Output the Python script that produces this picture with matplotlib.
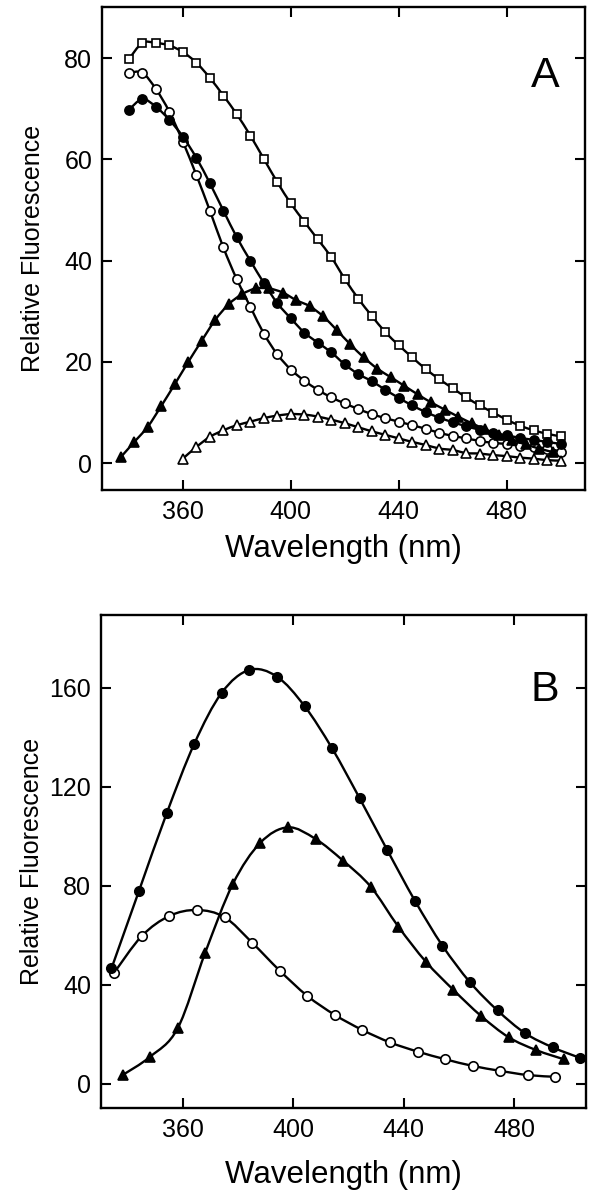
import numpy as np
import matplotlib; matplotlib.use('Agg')
import matplotlib.pyplot as plt
from matplotlib.path import Path
from matplotlib.patches import PathPatch

plt.rcParams['font.family'] = ['Liberation Sans', 'DejaVu Sans']

# ---- Panel A data ----
a_sq_x = [340, 345, 350, 355, 360, 365, 370, 375, 380, 385, 390, 395, 400, 405, 410, 415, 420,
          425, 430, 435, 440, 445, 450, 455, 460, 465, 470, 475, 480, 485, 490, 495, 500]
a_sq_y = [79.8, 83.0, 83.0, 82.5, 81.2, 79.1, 76.1, 72.6, 68.9, 64.7, 60.1, 55.5, 51.3, 47.7, 44.2, 40.7, 36.4,
          32.5, 29.1, 25.9, 23.3, 20.9, 18.6, 16.6, 14.8, 13.0, 11.4, 10.0, 8.6, 7.4, 6.5, 5.8, 5.3]

a_oc_x = a_sq_x
a_oc_y = [77.1, 77.1, 73.9, 69.4, 63.5, 56.9, 49.9, 42.6, 36.3, 30.9, 25.6, 21.5, 18.5, 16.3, 14.5, 13.0, 11.8,
          10.7, 9.7, 8.9, 8.2, 7.5, 6.8, 6.0, 5.4, 4.9, 4.4, 4.0, 3.8, 3.4, 3.2, 2.9, 2.3]

a_fc_x = a_sq_x
a_fc_y = [69.8, 71.9, 70.4, 67.8, 64.5, 60.3, 55.3, 49.9, 44.6, 40.0, 35.6, 31.6, 28.6, 25.8, 23.8, 21.9, 19.5,
          17.6, 16.2, 14.5, 12.9, 11.4, 10.1, 9.0, 8.1, 7.3, 6.6, 6.0, 5.5, 5.0, 4.6, 4.2, 3.8]

a_ft_x = [337, 342, 347, 352, 357, 362, 367, 372, 377, 382, 387, 392, 397, 402, 407, 412, 417,
          422, 427, 432, 437, 442, 447, 452, 457, 462, 467, 472, 477, 482, 487, 492, 497]
a_ft_y = [1.2, 4.2, 7.2, 11.3, 15.6, 20.0, 24.2, 28.3, 31.4, 33.4, 34.5, 34.5, 33.7, 32.2, 31.0, 29.0, 26.3,
          23.5, 20.9, 18.7, 17.0, 15.3, 13.6, 12.0, 10.6, 9.2, 7.9, 6.7, 5.6, 4.6, 3.7, 2.9, 2.2]

a_ot_x = [360, 365, 370, 375, 380, 385, 390, 395, 400, 405, 410, 415, 420, 425, 430,
          435, 440, 445, 450, 455, 460, 465, 470, 475, 480, 485, 490, 495, 500]
a_ot_y = [0.9, 3.2, 5.2, 6.5, 7.5, 8.2, 8.9, 9.4, 9.7, 9.6, 9.2, 8.6, 7.9, 7.1, 6.3,
          5.6, 4.9, 4.2, 3.6, 2.9, 2.6, 2.0, 1.9, 1.6, 1.4, 1.1, 0.9, 0.6, 0.5]

# ---- Panel B data ----
b_fc_x = [334, 344, 354, 364, 374, 384, 394, 404, 414, 424, 434, 444, 454, 464, 474, 484, 494, 504]
b_fc_y = [46.7, 78.1, 109.3, 137.4, 158.1, 167.3, 164.6, 152.7, 135.6, 115.4, 94.5, 74.1, 55.9, 41.1,
          29.7, 20.5, 14.8, 10.5]

b_oc_x = [335, 345, 355, 365, 375, 385, 395, 405, 415, 425, 435, 445, 455, 465, 475, 485, 495]
b_oc_y = [45.0, 59.8, 67.9, 70.3, 67.4, 57.1, 45.8, 35.6, 27.9, 21.8, 16.8, 13.1, 10.0, 7.3, 5.3, 3.6, 2.9]

b_ft_x = [338, 348, 358, 368, 378, 388, 398, 408, 418, 428, 438, 448, 458, 468, 478, 488, 498]
b_ft_y = [3.6, 11.0, 22.5, 53.1, 80.8, 97.5, 103.7, 99.0, 90.2, 79.7, 63.6, 49.4, 38.0, 27.5, 18.9, 13.7, 10.0]


def smooth_path(x, y):
    """Catmull-Rom curve through the points as cubic Bezier segments"""
    p = np.column_stack([x, y]).astype(float)
    ext = np.vstack([p[0], p, p[-1]])
    verts = [p[0]]; codes = [Path.MOVETO]
    for i in range(len(p) - 1):
        p0, p1, p2, p3 = ext[i], ext[i+1], ext[i+2], ext[i+3]
        verts += [p1 + (p2 - p0) / 6, p2 - (p3 - p1) / 6, p2]
        codes += [Path.CURVE4] * 3
    return Path(verts, codes)


def series(ax, x, y, marker, filled, ms, z):
    ax.add_patch(PathPatch(smooth_path(x, y), fill=False, lw=1.7, edgecolor='k', zorder=z))
    ax.plot(x, y, ls='none', marker=marker, ms=ms, mec='k', mew=1.2,
            mfc='k' if filled else 'white', zorder=z + 0.5)


def style(ax, xlim, ylim, yticks):
    ax.set_xlim(*xlim); ax.set_ylim(*ylim)
    ax.set_xticks([360, 400, 440, 480]); ax.set_yticks(yticks)
    ax.tick_params(direction='in', top=True, right=True, length=7, width=1.5,
                   labelsize=18, pad=7)
    for s in ax.spines.values():
        s.set_linewidth(1.7)
    ax.set_xlabel('Wavelength (nm)', fontsize=22.5)
    ax.set_ylabel('Relative Fluorescence', fontsize=18)


fig = plt.figure(figsize=(6.03, 11.99), dpi=100)

axA = fig.add_axes([0.169, 0.5913, 0.801, 0.4029])
series(axA, a_sq_x, a_sq_y, 's', False, 6.2, 2)
series(axA, a_oc_x, a_oc_y, 'o', False, 6.6, 3)
series(axA, a_fc_x, a_fc_y, 'o', True, 6.6, 4)
series(axA, a_ft_x, a_ft_y, '^', True, 7.4, 5)
series(axA, a_ot_x, a_ot_y, '^', False, 7.4, 6)
style(axA, (330, 509), (-5.3, 90.1), [0, 20, 40, 60, 80])
axA.xaxis.set_label_coords(0.5, -0.09)
axA.yaxis.set_label_coords(-0.117, 0.5)
axA.text(0.917, 0.857, 'A', transform=axA.transAxes, fontsize=31, ha='center', va='center')

axB = fig.add_axes([0.1675, 0.0759, 0.804, 0.4112])
series(axB, b_oc_x, b_oc_y, 'o', False, 6.8, 2)
series(axB, b_ft_x, b_ft_y, '^', True, 7.6, 3)
series(axB, b_fc_x, b_fc_y, 'o', True, 6.8, 4)
style(axB, (330.2, 506), (-9.7, 189.5), [0, 40, 80, 120, 160])
axB.xaxis.set_label_coords(0.5, -0.105)
axB.yaxis.set_label_coords(-0.117, 0.5)
axB.text(0.915, 0.848, 'B', transform=axB.transAxes, fontsize=31, ha='center', va='center')

plt.savefig('out.png', dpi=100)
plt.close()
